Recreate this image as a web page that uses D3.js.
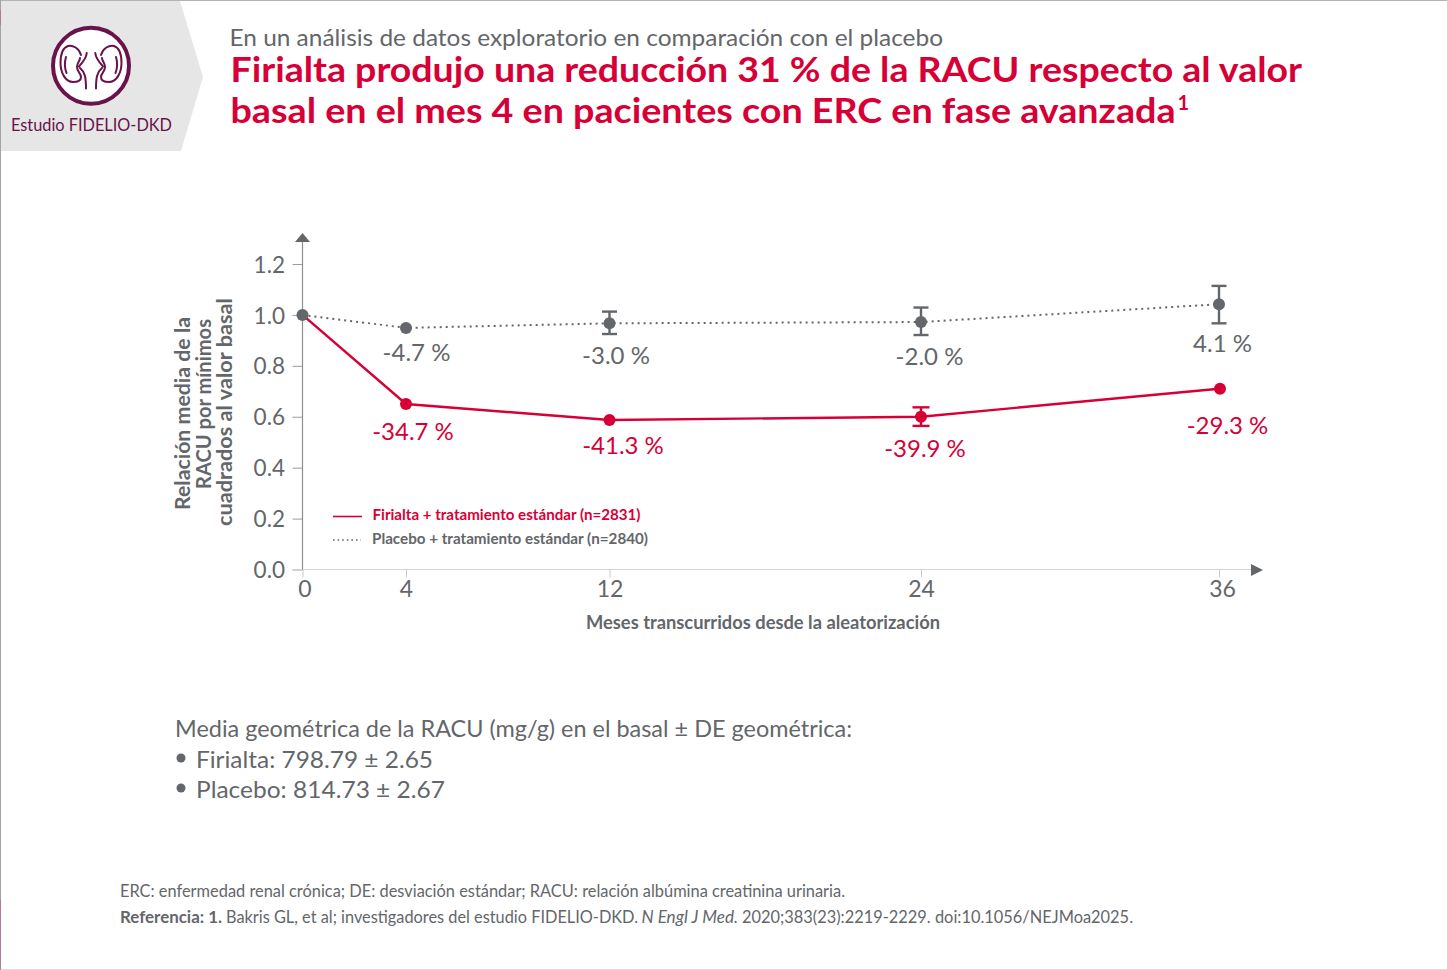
<!DOCTYPE html>
<html lang="es">
<head>
<meta charset="utf-8">
<title>FIDELIO-DKD</title>
<script src="https://cdnjs.cloudflare.com/ajax/libs/d3/7.8.5/d3.min.js"></script>
<style>
  html, body { margin: 0; padding: 0; background: #fff; }
  svg { display: block; }
  text { font-family: Lato, "Open Sans", sans-serif; }
</style>
</head>
<body>
<svg id="chart" width="1447" height="970"></svg>
<script>
const months = [0, 4, 12, 24, 36];
const yTicks = [0, 0.2, 0.4, 0.6, 0.8, 1.0, 1.2];
const firialtaValues = [1.0, 0.65, 0.587, 0.6, 0.71];
const placeboValues = [1.0, 0.949, 0.967, 0.972, 1.042];
const firialtaLabels = ["", "-34.7 %", "-41.3 %", "-39.9 %", "-29.3 %"];
const placeboLabels = ["", "-4.7 %", "-3.0 %", "-2.0 %", "4.1 %"];
const firialtaErrors = [{ month: 24, low: 0.564, high: 0.637 }];
const placeboErrors = [
  { month: 12, low: 0.925, high: 1.013 },
  { month: 24, low: 0.921, high: 1.029 },
  { month: 36, low: 0.967, high: 1.114 }
];

const RED = "#d70036";
const GREY = "#63666a";
const PLUM = "#68134a";

const svg = d3.select("#chart");

// el eje x del original no es del todo lineal
const x = d3.scaleLinear().domain(months).range([302.5, 406, 609.5, 921, 1219]);
const y = d3.scaleLinear().domain([0, 1.2]).range([569.5, 264]);

// ajusta el ancho del texto al del original
const addText = (str, px, py, opts) => {
  const t = svg.append("text")
    .attr("x", px)
    .attr("y", py)
    .attr("fill", opts.color || GREY)
    .attr("font-size", opts.size)
    .attr("font-weight", opts.weight || 400)
    .attr("font-style", opts.italic ? "italic" : null)
    .attr("text-anchor", opts.anchor || "start")
    .text(str);
  if (opts.width) t.attr("textLength", opts.width).attr("lengthAdjust", "spacingAndGlyphs");
  if (opts.rotate) t.attr("transform", `rotate(${opts.rotate}, ${px}, ${py})`);
  return t;
};

// Bordes de la pagina
svg.append("line").attr("x1", 0).attr("x2", 1447).attr("y1", 0.5).attr("y2", 0.5).attr("stroke", "#b5b3b5");
svg.append("line").attr("x1", 0).attr("x2", 1447).attr("y1", 969.5).attr("y2", 969.5).attr("stroke", "#dddddd");
svg.append("line").attr("x1", 0.5).attr("x2", 0.5).attr("y1", 0).attr("y2", 970).attr("stroke", "#a3a3a6");
svg.append("line").attr("x1", 0.5).attr("x2", 0.5).attr("y1", 10).attr("y2", 25).attr("stroke", "#b07a9c");
svg.append("line").attr("x1", 0.5).attr("x2", 0.5).attr("y1", 900).attr("y2", 969).attr("stroke", "#b07a9c");

// Cabecera con el icono
svg.append("polygon")
  .attr("points", "1,1 180,1 203,77 181,151 1,151")
  .attr("fill", "#e6e6e6");

const icon = svg.append("g").attr("fill", "none").attr("stroke", PLUM).attr("stroke-linecap", "round");
icon.append("circle").attr("cx", 91).attr("cy", 65.8).attr("r", 38).attr("fill", "#fff").attr("stroke-width", 4);
const kidney = icon.append("g").attr("stroke-width", 2);
const kidneyPath = "M81 55 C79 48 73 45 68 46 C62 48 60.5 56 60.5 63 C60.5 72 65 82 73 82 C77 82 81 81 81 77 C81 73 77 72 77 67 C77 63 80 61 80 58";
const kidneyInner = "M66 57 C64.5 62 64.5 68 66.5 73";
const ureter = "M86.7 53 C86.5 58 83 62 79 66.5 M80 68 C85 72 86 78 86 88.5";
[null, "translate(182,0) scale(-1,1)"].forEach(tr => {
  const side = kidney.append("g").attr("transform", tr);
  side.append("path").attr("d", kidneyPath);
  side.append("path").attr("d", kidneyInner);
  side.append("path").attr("d", ureter);
});
addText("Estudio FIDELIO-DKD", 91.5, 130.5, { size: 17, color: PLUM, anchor: "middle", width: 161 });

// Titulos
addText("En un análisis de datos exploratorio en comparación con el placebo", 229.5, 46, { size: 23, width: 713.5 });
addText("Firialta produjo una reducción 31 % de la RACU respecto al valor", 230.5, 82, { size: 35, weight: 700, color: RED, width: 1071.5 });
addText("basal en el mes 4 en pacientes con ERC en fase avanzada", 230.5, 123, { size: 35, weight: 700, color: RED, width: 945 });
addText("1", 1177.5, 109.5, { size: 20, weight: 700, color: RED });

// Ejes
const axisLeft = svg.append("g")
  .attr("transform", "translate(302.5,0)")
  .call(d3.axisLeft(y).tickValues(yTicks).tickSize(10).tickPadding(7.5).tickFormat(d3.format(".1f")));
axisLeft.select(".domain").remove();
axisLeft.selectAll("line").attr("stroke", "#9a9c9f");
axisLeft.selectAll("text")
  .attr("font-size", 22.5)
  .attr("fill", GREY)
  .attr("dy", "0.36em")
  .style("font-family", "Lato, sans-serif");

const axisBottom = svg.append("g")
  .attr("transform", "translate(0,569.5)")
  .call(d3.axisBottom(x).tickValues(months).tickSize(8).tickPadding(3).tickFormat(d3.format("d")));
axisBottom.select(".domain").remove();
axisBottom.selectAll("line").attr("stroke", "#c9c9c9");
axisBottom.selectAll("text")
  .attr("font-size", 23)
  .attr("fill", GREY)
  .style("font-family", "Lato, sans-serif")
  .attr("dx", d => d === 36 ? 3 : d === 0 ? 2 : 0);

svg.append("line").attr("x1", 292).attr("x2", 1252).attr("y1", 569.5).attr("y2", 569.5).attr("stroke", "#d4d4d4");
svg.append("polygon").attr("points", "1251,564 1263,570 1251,576").attr("fill", GREY);
svg.append("line").attr("x1", 302.5).attr("x2", 302.5).attr("y1", 242).attr("y2", 569.5).attr("stroke", "#8c8e91").attr("stroke-width", 1.2);
svg.append("polygon").attr("points", "295,242 302.5,233 310,242").attr("fill", GREY);

// Titulos de los ejes
addText("Relación media de la", 190, 510, { size: 20.5, weight: 700, rotate: -90, width: 193 });
addText("RACU por mínimos", 211, 489, { size: 20.5, weight: 700, rotate: -90, width: 170 });
addText("cuadrados al valor basal", 232, 526, { size: 20.5, weight: 700, rotate: -90, width: 228 });
addText("Meses transcurridos desde la aleatorización", 586, 629, { size: 18, weight: 700, width: 354 });

// Series
const line = d3.line().x((d, i) => x(months[i])).y(d => y(d));

svg.append("path")
  .attr("d", line(placeboValues))
  .attr("fill", "none")
  .attr("stroke", GREY)
  .attr("stroke-width", 2)
  .attr("stroke-dasharray", "2 4");

svg.append("path")
  .attr("d", line(firialtaValues))
  .attr("fill", "none")
  .attr("stroke", RED)
  .attr("stroke-width", 2.4);

const drawErrors = (errors, color, cap) => {
  errors.forEach(e => {
    const cx = x(e.month);
    svg.append("line").attr("x1", cx).attr("x2", cx).attr("y1", y(e.low)).attr("y2", y(e.high))
      .attr("stroke", color).attr("stroke-width", 2.4);
    [e.low, e.high].forEach(v => {
      svg.append("line").attr("x1", cx - cap).attr("x2", cx + cap).attr("y1", y(v)).attr("y2", y(v))
        .attr("stroke", color).attr("stroke-width", 2.4);
    });
  });
};
drawErrors(placeboErrors, GREY, 7.5);
drawErrors(firialtaErrors, RED, 8.5);

svg.selectAll(".dot-firialta")
  .data(firialtaValues.slice(1))
  .enter()
  .append("circle")
  .attr("class", "dot-firialta")
  .attr("cx", (d, i) => x(months[i + 1]) + (months[i + 1] === 36 ? 1 : 0))
  .attr("cy", d => y(d))
  .attr("r", 6)
  .attr("fill", RED);

svg.selectAll(".dot-placebo")
  .data(placeboValues)
  .enter()
  .append("circle")
  .attr("class", "dot-placebo")
  .attr("cx", (d, i) => x(months[i]))
  .attr("cy", d => y(d))
  .attr("r", 6)
  .attr("fill", GREY);

// Etiquetas de porcentaje
const placeboLabelX = [0, 416.5, 616, 929.5, 1222.5];
const placeboLabelY = [0, 361, 364, 365, 352];
placeboLabels.forEach((s, i) => {
  if (s) addText(s, placeboLabelX[i], placeboLabelY[i], { size: 24, anchor: "middle" });
});
const firialtaLabelX = [0, 413, 623, 925, 1227.5];
const firialtaLabelY = [0, 440, 454, 457, 434];
firialtaLabels.forEach((s, i) => {
  if (s) addText(s, firialtaLabelX[i], firialtaLabelY[i], { size: 24, color: RED, anchor: "middle" });
});

// Leyenda
svg.append("line").attr("x1", 333).attr("x2", 362).attr("y1", 516.5).attr("y2", 516.5).attr("stroke", RED).attr("stroke-width", 1.6);
svg.append("line").attr("x1", 333).attr("x2", 361).attr("y1", 540).attr("y2", 540).attr("stroke", GREY).attr("stroke-width", 1.3).attr("stroke-dasharray", "1.6 3");
addText("Firialta + tratamiento estándar (n=2831)", 372.5, 520, { size: 14.5, weight: 700, color: RED, width: 268 });
addText("Placebo + tratamiento estándar (n=2840)", 372, 543.5, { size: 14.5, weight: 700, width: 276 });

// Texto inferior
addText("Media geométrica de la RACU (mg/g) en el basal ± DE geométrica:", 175, 737, { size: 23.5, width: 677 });
svg.append("circle").attr("cx", 181).attr("cy", 758).attr("r", 4.5).attr("fill", GREY);
addText("Firialta: 798.79 ± 2.65", 196, 768, { size: 23.5, width: 237 });
svg.append("circle").attr("cx", 181).attr("cy", 788).attr("r", 4.5).attr("fill", GREY);
addText("Placebo: 814.73 ± 2.67", 196, 798, { size: 23.5, width: 249 });

addText("ERC: enfermedad renal crónica; DE: desviación estándar; RACU: relación albúmina creatinina urinaria.", 120, 897, { size: 17, width: 725 });
addText("Referencia: 1.", 120, 923, { size: 17, weight: 700, width: 102 });
addText("Bakris GL, et al; investigadores del estudio FIDELIO-DKD.", 226, 923, { size: 16.5, width: 412 });
addText("N Engl J Med.", 641.5, 923, { size: 16.5, italic: true, width: 96.5 });
addText("2020;383(23):2219-2229. doi:10.1056/NEJMoa2025.", 742, 923, { size: 17, width: 391 });
</script>
</body>
</html>
